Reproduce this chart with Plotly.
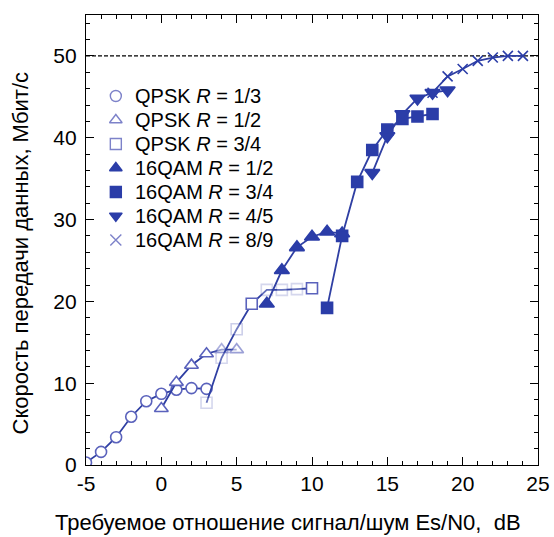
import plotly.graph_objects as go

# Required Es/N0 (dB) vs. data rate (Mbit/s) for each modulation / code rate
qpsk13_x = [-5, -4, -3, -2, -1, 0, 1, 2, 3]
qpsk13_y = [0.3, 1.6, 3.4, 5.9, 7.8, 8.7, 9.2, 9.4, 9.3]

qpsk12_x = [0, 1, 2, 3, 4, 5]
qpsk12_y = [6.9, 10.1, 12.2, 13.6, 14.1, 14.1]

qpsk34_x = [3, 4, 5, 6, 7, 8, 9, 10]
qpsk34_y = [7.6, 13.1, 16.6, 19.7, 21.4, 21.4, 21.5, 21.6]

qam12_x = [7, 8, 9, 10, 11, 12]
qam12_y = [19.7, 23.8, 26.6, 27.9, 28.5, 28.3]

qam34_x = [11, 12, 13, 14, 15, 16, 17, 18]
qam34_y = [19.2, 28.0, 34.6, 38.5, 41.0, 42.3, 42.6, 42.9]

qam45_x = [14, 15, 16, 17, 18, 19]
qam45_y = [35.7, 40.2, 42.9, 44.8, 45.5, 45.8]

qam89_x = [18, 19, 20, 21, 22, 23, 24]
qam89_y = [45.5, 47.5, 48.4, 49.4, 49.8, 50.0, 50.0]

max_rate = 50

x_ticks = [-5, 0, 5, 10, 15, 20, 25]
x_tick_text = ["-5", "0", "5", "10", "15", "20", "25"]
y_ticks = [0, 10, 20, 30, 40, 50]

labels = [
    "QPSK <i>R</i> = 1/3", "QPSK <i>R</i> = 1/2", "QPSK <i>R</i> = 3/4",
    "16QAM <i>R</i> = 1/2", "16QAM <i>R</i> = 3/4", "16QAM <i>R</i> = 4/5",
    "16QAM <i>R</i> = 8/9",
]

LINE = "#2f3fa3"
FILL = "#2b3da8"
OPEN = "#5a62bc"
LEG_OPEN = "#7d82c9"
FONT = "Liberation Sans, Arial, sans-serif"

fig = go.Figure()

# reference level
fig.add_trace(go.Scatter(
    x=[-5, 25], y=[max_rate, max_rate], mode="lines",
    line=dict(color="black", width=1.1, dash="4px,2px"),
    showlegend=False, hoverinfo="skip"))

# washed-out markers on the QPSK curves
qpsk34_op = [0.25, 0.25, 0.3, 1, 0.25, 0.25, 0.25, 1]
qpsk12_op = [1, 1, 1, 1, 0.5, 0.6]

# (x, y, symbol, size, edge colour, fill colour, per-point opacity)
series = [
    (qpsk13_x, qpsk13_y, "circle", 11, OPEN, "white", None),
    (qpsk12_x, qpsk12_y, "triangle-up", 12, OPEN, "white", qpsk12_op),
    (qpsk34_x, qpsk34_y, "square", 11, OPEN, "white", qpsk34_op),
    (qam12_x, qam12_y, "triangle-up", 13, FILL, FILL, None),
    (qam34_x, qam34_y, "square", 11, FILL, FILL, None),
    (qam89_x, qam89_y, "x-thin-open", 10, FILL, FILL, None),
    (qam45_x, qam45_y, "triangle-down", 13, FILL, FILL, None),
]

for xs, ys, sym, size, edge, fill, op in series:
    mk = dict(symbol=sym, size=size, color=fill, line=dict(color=edge, width=1.6))
    if op is not None:
        mk["opacity"] = op
    fig.add_trace(go.Scatter(
        x=xs, y=ys, mode="lines+markers",
        line=dict(color=LINE, width=1.8),
        marker=mk, showlegend=False, hoverinfo="skip"))

# legend block, drawn on an overlay axis spanning the plot area (0..1)
leg_styles = [
    ("circle", LEG_OPEN, "white"), ("triangle-up", LEG_OPEN, "white"),
    ("square", LEG_OPEN, "white"), ("triangle-up", FILL, FILL),
    ("square", FILL, FILL), ("triangle-down", FILL, FILL),
    ("x-thin-open", LEG_OPEN, LEG_OPEN),
]
leg_x = 0.066
leg_text_x = 0.104
leg_top = 0.820
leg_step = 0.0533
annotations = []
for i, ((sym, edge, fill), name) in enumerate(zip(leg_styles, labels)):
    yy = leg_top - i * leg_step
    fig.add_trace(go.Scatter(
        x=[leg_x], y=[yy], mode="markers", xaxis="x2", yaxis="y2",
        marker=dict(symbol=sym, size=11, color=fill, line=dict(color=edge, width=1.4)),
        showlegend=False, hoverinfo="skip"))
    annotations.append(dict(
        text=name, xref="paper", yref="paper", x=leg_text_x, y=yy,
        xanchor="left", yanchor="middle", showarrow=False,
        font=dict(family=FONT, size=20, color="black")))

axis_common = dict(
    showline=True, linecolor="black", linewidth=1.2, mirror="allticks",
    ticks="inside", ticklen=8, tickwidth=1.2, tickcolor="black",
    showgrid=False, zeroline=False, automargin=False,
    tickfont=dict(family=FONT, size=21, color="black"),
)

fig.update_layout(
    xaxis=dict(range=[-5, 25], tickvals=x_ticks, ticktext=x_tick_text,
               minor=dict(dtick=1, tick0=0, ticks="inside", ticklen=4,
                          tickcolor="black", tickwidth=1.2),
               **axis_common),
    yaxis=dict(range=[0, 55], tickvals=y_ticks,
               minor=dict(dtick=2, tick0=0, ticks="inside", ticklen=4,
                          tickcolor="black", tickwidth=1.2),
               ticklabelstandoff=4, **axis_common),
    xaxis2=dict(range=[0, 1], overlaying="x", visible=False, fixedrange=True),
    yaxis2=dict(range=[0, 1], overlaying="y", visible=False, fixedrange=True),
    width=554, height=537,
    margin=dict(l=86, r=16, t=15, b=72),
    plot_bgcolor="white", paper_bgcolor="white",
    font=dict(family=FONT, color="black"),
    showlegend=False,
)

annotations += [
    dict(text="Требуемое отношение сигнал/шум Es/N0,  dB", xref="paper", yref="paper",
         x=0.447, y=-0.127, xanchor="center", yanchor="middle", showarrow=False,
         font=dict(family=FONT, size=22, color="black")),
    dict(text="Скорость передачи данных, Мбит/с", xref="paper", yref="paper",
         x=-0.146, y=0.47, xanchor="center", yanchor="middle", textangle=-90,
         showarrow=False, font=dict(family=FONT, size=22, color="black")),
]
fig.update_layout(annotations=annotations)

fig.write_html("out.html")
